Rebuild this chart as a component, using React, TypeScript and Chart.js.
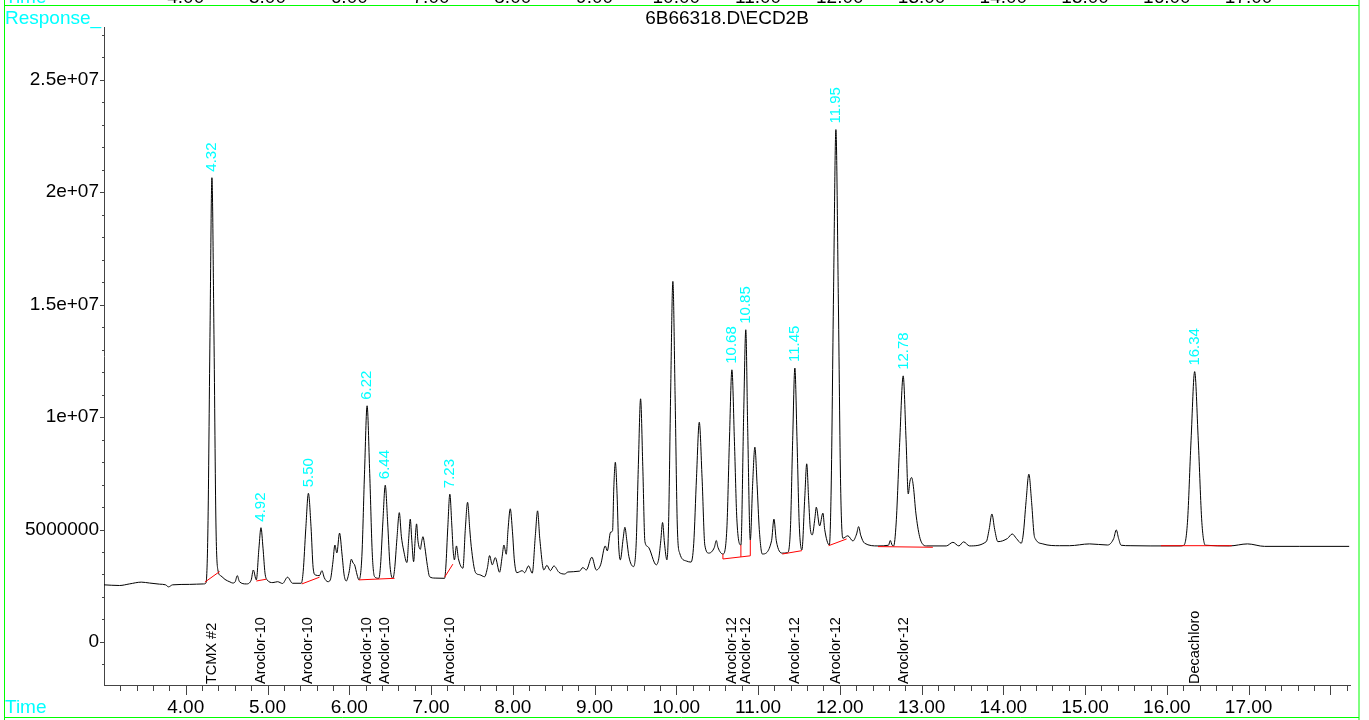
import React, { useEffect, useRef } from "react";
import { Chart, registerables } from "chart.js";

Chart.register(...registerables);

// ---- chromatogram trace (time in minutes, response in millions of counts) ----
const traceTimes = [
  3.0, 3.19, 3.31, 3.456, 3.557, 3.68, 3.753, 3.79, 3.839, 4.047, 4.218,
  4.247, 4.271, 4.296, 4.32, 4.345, 4.369, 4.393, 4.43, 4.48, 4.54, 4.575,
  4.605, 4.63, 4.657, 4.74, 4.8, 4.826, 4.863, 4.895, 4.92, 4.945, 4.969, 4.995,
  5.066, 5.123, 5.184, 5.245, 5.306, 5.413, 5.436, 5.468, 5.5, 5.532, 5.558, 5.585,
  5.635, 5.665, 5.695, 5.739, 5.768, 5.8, 5.824, 5.848, 5.881, 5.912, 5.937, 5.963,
  5.998, 6.025, 6.047, 6.065, 6.096, 6.118, 6.154, 6.186, 6.218, 6.25, 6.282, 6.31,
  6.362, 6.382, 6.411, 6.44, 6.469, 6.498, 6.533, 6.554, 6.583, 6.612, 6.637, 6.664,
  6.705, 6.727, 6.746, 6.765, 6.787, 6.805, 6.823, 6.84, 6.869, 6.885, 6.901, 6.925,
  6.955, 6.983, 7.05, 7.166, 7.181, 7.205, 7.23, 7.254, 7.272, 7.286, 7.311, 7.335,
  7.39, 7.42, 7.447, 7.474, 7.492, 7.545, 7.594, 7.655, 7.69, 7.716, 7.749, 7.786,
  7.838, 7.87, 7.891, 7.92, 7.942, 7.969, 7.996, 8.02, 8.05, 8.116, 8.144, 8.193,
  8.238, 8.276, 8.303, 8.33, 8.38, 8.417, 8.459, 8.503, 8.564, 8.634, 8.674, 8.817,
  8.857, 8.899, 8.967, 9.021, 9.074, 9.131, 9.156, 9.196, 9.22, 9.236, 9.254, 9.275,
  9.295, 9.315, 9.35, 9.371, 9.395, 9.42, 9.477, 9.509, 9.536, 9.563, 9.59, 9.616,
  9.652, 9.755, 9.785, 9.81, 9.832, 9.855, 9.885, 9.906, 9.931, 9.958, 9.985, 10.012,
  10.041, 10.122, 10.18, 10.213, 10.247, 10.281, 10.315, 10.349, 10.398, 10.465, 10.489, 10.51,
  10.57, 10.618, 10.649, 10.68, 10.711, 10.74, 10.79, 10.824, 10.85, 10.873, 10.905, 10.934,
  10.961, 10.988, 11.015, 11.052, 11.165, 11.194, 11.223, 11.296, 11.36, 11.396, 11.423, 11.45,
  11.477, 11.504, 11.536, 11.571, 11.595, 11.619, 11.64, 11.663, 11.695, 11.712, 11.753, 11.793,
  11.815, 11.872, 11.894, 11.923, 11.952, 11.981, 12.01, 12.037, 12.098, 12.16, 12.205, 12.23,
  12.255, 12.303, 12.466, 12.595, 12.617, 12.64, 12.658, 12.689, 12.732, 12.775, 12.81, 12.837,
  12.858, 12.878, 12.9, 12.93, 12.976, 13.02, 13.058, 13.302, 13.383, 13.456, 13.514, 13.587,
  13.791, 13.826, 13.86, 13.894, 13.933, 14.05, 14.109, 14.16, 14.219, 14.244, 14.278, 14.312,
  14.346, 14.375, 14.394, 14.483, 14.687, 14.81, 15.055, 15.275, 15.35, 15.381, 15.41, 15.44,
  15.55, 15.795, 16.162, 16.208, 16.252, 16.296, 16.34, 16.384, 16.428, 16.472, 16.766, 16.987,
  17.195, 17.62, 18.23,
];

const traceResponsesM = [
  2.54, 2.51, 2.58, 2.66, 2.62, 2.57, 2.54, 2.45, 2.54, 2.56, 2.58,
  2.62, 5.03, 13.54, 20.64, 13.66, 5.29, 3.2, 2.94, 2.78, 2.67, 2.62,
  2.68, 2.95, 2.68, 2.58, 2.75, 3.2, 2.76, 4.17, 5.08, 4.17, 3.07, 2.76,
  2.64, 2.68, 2.6, 2.88, 2.61, 2.61, 3.12, 5.03, 6.61, 5.13, 3.3, 2.98,
  2.95, 3.17, 2.85, 2.68, 2.76, 3.56, 4.31, 3.96, 4.84, 3.87, 2.98, 2.71,
  3.11, 3.68, 3.51, 3.43, 2.98, 2.76, 3.8, 7.46, 10.5, 7.49, 3.87, 2.9,
  2.83, 3.39, 5.34, 6.97, 5.34, 3.39, 2.83, 3.22, 4.6, 5.75, 4.7, 4.09,
  3.53, 4.6, 5.46, 4.5, 3.57, 4.5, 5.25, 4.5, 4.12, 4.45, 4.68, 4.2,
  3.4, 2.9, 2.84, 2.83, 3.33, 5.1, 6.57, 5.2, 4.0, 3.65, 4.27, 3.7,
  3.28, 5.06, 6.21, 5.0, 4.24, 3.08, 2.99, 2.9, 3.3, 3.84, 3.43, 3.75,
  3.1, 3.8, 4.31, 3.9, 5.0, 5.92, 4.9, 3.6, 3.08, 3.17, 3.08, 3.38,
  3.06, 4.74, 5.83, 4.6, 3.2, 3.41, 3.17, 3.38, 3.1, 3.02, 3.11, 3.15,
  3.31, 3.2, 3.77, 3.2, 3.43, 4.27, 4.05, 4.88, 4.94, 6.9, 7.99, 6.6,
  4.3, 3.65, 4.6, 5.1, 4.5, 3.8, 3.35, 4.36, 7.88, 10.81, 7.8, 4.46,
  4.24, 3.43, 3.7, 4.5, 5.31, 4.4, 3.65, 5.32, 11.16, 16.03, 11.0, 5.2,
  3.95, 3.6, 3.55, 4.37, 7.32, 9.77, 7.3, 4.3, 3.95, 4.2, 4.51, 4.2,
  3.91, 5.02, 8.88, 12.1, 8.9, 5.5, 4.31, 10.12, 13.88, 9.5, 4.53, 7.05,
  8.66, 7.0, 5.0, 3.91, 4.5, 5.46, 4.5, 3.95, 3.97, 5.06, 8.95, 12.18,
  8.9, 5.2, 4.09, 6.4, 7.92, 6.3, 5.0, 4.76, 5.5, 5.99, 5.16, 5.73,
  5.0, 4.31, 6.8, 15.52, 22.78, 15.5, 6.9, 4.61, 4.72, 4.49, 4.8, 5.13,
  4.75, 4.39, 4.27, 4.3, 4.51, 4.3, 4.27, 5.29, 8.86, 11.83, 9.0, 6.58,
  7.15, 7.31, 6.9, 5.73, 4.68, 4.32, 4.27, 4.27, 4.43, 4.27, 4.45, 4.27,
  4.46, 5.0, 5.69, 5.0, 4.46, 4.6, 4.8, 4.6, 4.39, 4.8, 6.25, 7.46,
  6.2, 4.8, 4.57, 4.36, 4.28, 4.28, 4.36, 4.31, 4.6, 4.98, 4.6, 4.3,
  4.28, 4.27, 4.27, 4.3, 5.32, 8.97, 12.02, 8.97, 5.32, 4.3, 4.27, 4.36,
  4.25, 4.25, 4.25,
];

// ---- integration baselines (red) ----
const baseStartT = [4.234, 4.863, 5.42, 6.118, 7.166, 10.57, 11.296, 11.863, 12.466, 15.927];
const baseStartM = [2.66, 2.71, 2.58, 2.76, 2.88, 3.69, 3.91, 4.28, 4.24, 4.28];
const baseEndT = [4.414, 4.985, 5.636, 6.554, 7.267, 10.905, 11.536, 12.083, 13.138, 16.795];
const baseEndM = [3.13, 2.79, 2.88, 2.83, 3.46, 3.83, 4.06, 4.58, 4.21, 4.28];
// drop lines between baseline and trace
const dropT = [10.57, 10.79, 10.905];
const dropFromM = [3.69, 3.78, 3.83];
const dropToM = [3.91, 4.31, 4.53];

// ---- peak annotations ----
const peakTimes = [4.32, 4.92, 5.5, 6.22, 6.44, 7.23, 10.68, 10.85, 11.45, 11.95, 12.78, 16.34];
const peakLabels = ["4.32", "4.92", "5.50", "6.22", "6.44", "7.23", "10.68", "10.85", "11.45", "11.95", "12.78", "16.34"];
const peakApexM = [20.64, 5.08, 6.61, 10.5, 6.97, 6.57, 12.1, 13.88, 12.18, 22.78, 11.83, 12.02];
const compoundNames = [
  "TCMX #2", "Aroclor-10", "Aroclor-10", "Aroclor-10", "Aroclor-10", "Aroclor-10",
  "Aroclor-12", "Aroclor-12", "Aroclor-12", "Aroclor-12", "Aroclor-12", "Decachloro",
];

// ---- axes ----
const xTickValues = [4, 5, 6, 7, 8, 9, 10, 11, 12, 13, 14, 15, 16, 17];
const xTickLabels = ["4.00", "5.00", "6.00", "7.00", "8.00", "9.00", "10.00", "11.00", "12.00", "13.00", "14.00", "15.00", "16.00", "17.00"];
const yTickValues = [0, 5000000, 10000000, 15000000, 20000000, 25000000];
const yTickLabels = ["0", "5000000", "1e+07", "1.5e+07", "2e+07", "2.5e+07"];
const X_MIN = 3.0;
const X_MAX = 18.24;
const Y_MIN = -1913000;
const Y_MAX = 27340000;

const TITLE = "6B66318.D\\ECD2B";
const FAMILY = "'Liberation Sans', Arial, Helvetica, sans-serif";
const CYAN = "#00ffff";
const GREEN = "#00ff00";
const AXIS = "#444444";

export default function App() {
  const ref = useRef<HTMLCanvasElement | null>(null);

  useEffect(() => {
    const canvas = ref.current;
    if (!canvas) return;

    const baselinePts: any[] = [];
    for (let i = 0; i < baseStartT.length; i++) {
      baselinePts.push({ x: baseStartT[i], y: baseStartM[i] * 1e6 });
      baselinePts.push({ x: baseEndT[i], y: baseEndM[i] * 1e6 });
      baselinePts.push({ x: baseEndT[i] + 0.0001, y: null });
    }
    for (let i = 0; i < dropT.length; i++) {
      baselinePts.push({ x: dropT[i], y: dropFromM[i] * 1e6 });
      baselinePts.push({ x: dropT[i], y: dropToM[i] * 1e6 });
      baselinePts.push({ x: dropT[i] + 0.0001, y: null });
    }

    const overlay = {
      id: "overlay",
      afterDraw(chart: any) {
        const ctx: CanvasRenderingContext2D = chart.ctx;
        const xs = chart.scales.x;
        const ys = chart.scales.y;
        const area = chart.chartArea;
        ctx.save();

        // x ticks (major every 1 min, minor every 0.2 min)
        ctx.strokeStyle = AXIS;
        ctx.lineWidth = 1;
        ctx.beginPath();
        for (let i = 16; i <= 91; i++) {
          const t = i / 5;
          if (t > X_MAX) break;
          const px = Math.round(xs.getPixelForValue(t)) + 0.5;
          const len = i % 5 === 0 ? 10 : 6;
          ctx.moveTo(px, area.bottom);
          ctx.lineTo(px, area.bottom + len);
        }
        // y ticks (major every 5e6, minor every 1e6)
        for (let v = -1; v <= 27; v++) {
          const py = Math.round(ys.getPixelForValue(v * 1e6)) + 0.5;
          const len = v % 5 === 0 ? 4 : 2;
          ctx.moveTo(area.left - len, py);
          ctx.lineTo(area.left, py);
        }
        ctx.stroke();

        // peak retention-time labels (cyan, rotated)
        ctx.fillStyle = CYAN;
        ctx.font = `15px ${FAMILY}`;
        ctx.textAlign = "left";
        ctx.textBaseline = "middle";
        for (let i = 0; i < peakTimes.length; i++) {
          const px = xs.getPixelForValue(peakTimes[i]);
          const py = ys.getPixelForValue(peakApexM[i] * 1e6) - 6;
          ctx.save();
          ctx.translate(px, py);
          ctx.rotate(-Math.PI / 2);
          ctx.fillText(peakLabels[i], 0, 0);
          ctx.restore();
        }

        // compound names (black, rotated, standing on the x axis)
        ctx.fillStyle = "#000";
        ctx.font = `14.5px ${FAMILY}`;
        for (let i = 0; i < peakTimes.length; i++) {
          const px = xs.getPixelForValue(peakTimes[i]);
          ctx.save();
          ctx.translate(px, area.bottom - 1);
          ctx.rotate(-Math.PI / 2);
          ctx.fillText(compoundNames[i], 0, 0);
          ctx.restore();
        }

        // header texts
        ctx.textBaseline = "alphabetic";
        ctx.font = `19px ${FAMILY}`;
        ctx.fillStyle = CYAN;
        ctx.textAlign = "left";
        ctx.fillText("Response_", 5, 24);
        ctx.fillText("Time", 5, 713);
        ctx.fillText("Time", 5, 2.5);
        ctx.fillStyle = "#000";
        ctx.textAlign = "center";
        ctx.fillText(TITLE, (area.left + area.right) / 2, 24);
        // cut-off tick labels of the panel above
        for (let i = 0; i < xTickValues.length; i++) {
          ctx.fillText(xTickLabels[i], xs.getPixelForValue(xTickValues[i]), 2.5);
        }

        // green frame
        ctx.strokeStyle = GREEN;
        ctx.lineWidth = 1;
        ctx.beginPath();
        ctx.moveTo(4, 5.5);
        ctx.lineTo(1359, 5.5);
        ctx.moveTo(4, 717.5);
        ctx.lineTo(1359, 717.5);
        ctx.moveTo(4.5, 0);
        ctx.lineTo(4.5, 720);
        ctx.moveTo(1359, 0);
        ctx.lineTo(1359, 720);
        ctx.stroke();

        ctx.restore();
      },
    };

    const chart = new Chart(canvas, {
      type: "scatter",
      data: {
        datasets: [
          {
            data: baselinePts,
            showLine: true,
            borderColor: "#ff0000",
            borderWidth: 1,
            pointRadius: 0,
            spanGaps: false,
            order: 0,
          },
          {
            data: traceTimes.map((t, i) => ({ x: t, y: traceResponsesM[i] * 1e6 })),
            showLine: true,
            borderColor: "#000000",
            borderWidth: 1,
            pointRadius: 0,
            cubicInterpolationMode: "monotone",
            order: 1,
          },
        ],
      },
      options: {
        animation: false,
        responsive: false,
        events: [],
        layout: { padding: { top: 27, right: 19, bottom: 0, left: 0 } },
        plugins: {
          legend: { display: false },
          tooltip: { enabled: false },
          title: { display: false },
        },
        scales: {
          x: {
            type: "linear",
            min: X_MIN,
            max: X_MAX,
            afterFit: (s: any) => {
              s.height = 35;
            },
            afterBuildTicks: (s: any) => {
              s.ticks = xTickValues.map((v) => ({ value: v }));
            },
            ticks: {
              autoSkip: false,
              maxRotation: 0,
              padding: 11,
              color: "#000",
              font: { family: FAMILY, size: 19 },
              callback: (v: any) => {
                const i = xTickValues.indexOf(Number(v));
                return i >= 0 ? xTickLabels[i] : "";
              },
            },
            grid: { display: false, drawTicks: false },
            border: { display: true, color: AXIS, width: 1 },
          },
          y: {
            type: "linear",
            min: Y_MIN,
            max: Y_MAX,
            afterFit: (s: any) => {
              s.width = 104;
            },
            afterBuildTicks: (s: any) => {
              s.ticks = yTickValues.map((v) => ({ value: v }));
            },
            ticks: {
              autoSkip: false,
              padding: 5,
              color: "#000",
              font: { family: FAMILY, size: 19 },
              callback: (v: any) => {
                const i = yTickValues.indexOf(Number(v));
                return i >= 0 ? yTickLabels[i] : "";
              },
            },
            grid: { display: false, drawTicks: false },
            border: { display: true, color: AXIS, width: 1 },
          },
        },
      },
      plugins: [overlay],
    } as any);

    return () => chart.destroy();
  }, []);

  return (
    <div style={{ position: "fixed", left: 0, top: 0, width: 1369, height: 720, background: "#ffffff" }}>
      <canvas ref={ref} width={1369} height={720} style={{ display: "block", width: 1369, height: 720 }} />
    </div>
  );
}
